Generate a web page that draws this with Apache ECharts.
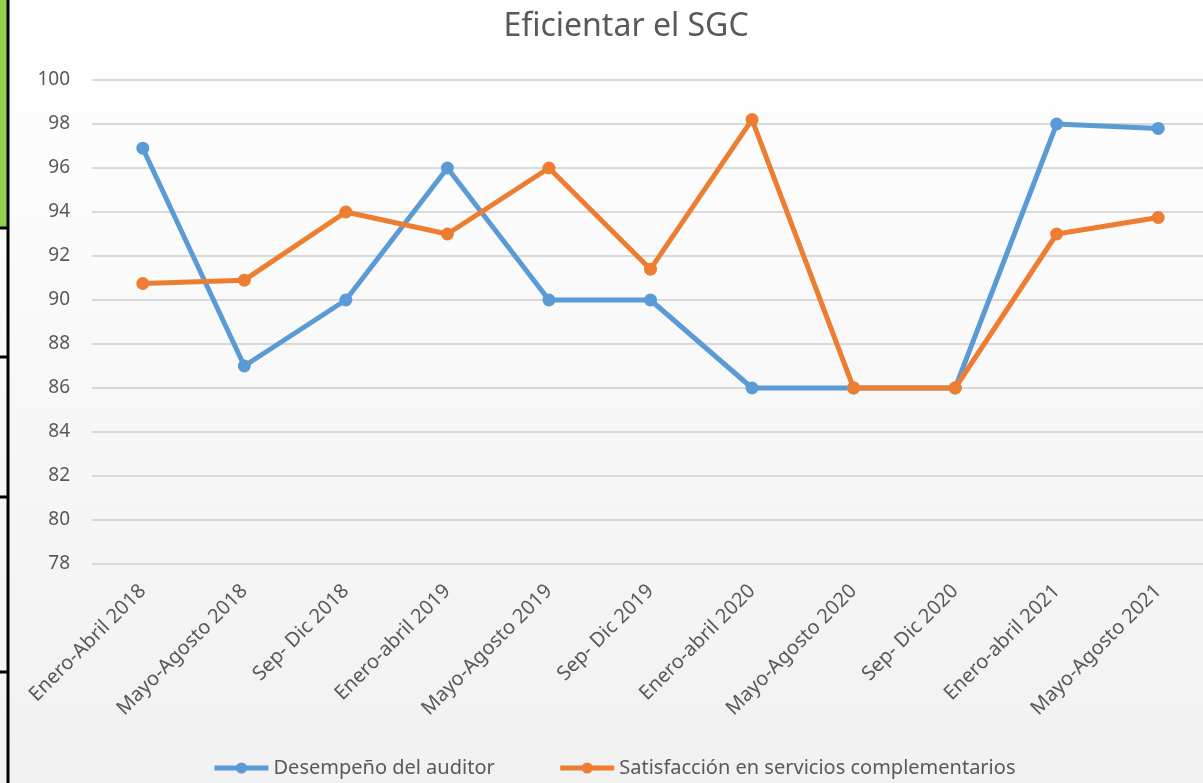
<!DOCTYPE html>
<html>
<head>
<meta charset="UTF-8" />
<script type="text/javascript" src="https://cdn.jsdelivr.net/npm/echarts@6/dist/echarts.min.js"></script>
<title>Eficientar el SGC</title>
<style>
	html, body { margin: 0; padding: 0; }
	#main { width: 1203px; height: 783px; }
</style>
</head>
<body>
	<div id="main"></div>
<script type="text/javascript">
	var periodos = ['Enero-Abril 2018', 'Mayo-Agosto 2018', 'Sep- Dic 2018', 'Enero-abril 2019',
		'Mayo-Agosto 2019', 'Sep- Dic 2019', 'Enero-abril 2020', 'Mayo-Agosto 2020',
		'Sep- Dic 2020', 'Enero-abril 2021', 'Mayo-Agosto 2021']
	var desempeno = [96.9, 87, 90, 96, 90, 90, 86, 86, 86, 98, 97.8]
	var satisfaccion = [90.75, 90.9, 94, 93, 96, 91.4, 98.2, 86, 86, 93, 93.75]
	var yMin = 78, yMax = 100, yStep = 2

	var fuente = 'Noto Sans'
	var gris = '#595959'

	var myChart = echarts.init(document.getElementById('main'))

	var option = {
		backgroundColor : {
			type : 'linear', x : 0, y : 0, x2 : 0, y2 : 1,
			colorStops : [ { offset : 0, color : '#ffffff' }, { offset : 1, color : '#f1f1f1' } ]
		},
		title : {
			text : 'Eficientar el SGC',
			left : 621,
			textAlign : 'center',
			top : 6,
			textStyle : { fontFamily : fuente, fontSize : 32, fontWeight : 'normal', color : gris }
		},
		legend : {
			bottom : 0,
			left : 207,
			itemWidth : 54,
			itemHeight : 14,
			itemGap : 63,
			lineStyle : { width : 5 },
			textStyle : { fontFamily : fuente, fontSize : 20, color : gris },
			data : ['Desempeño del auditor', 'Satisfacción en servicios complementarios']
		},
		// la rejilla sale un poco por la derecha del lienzo, como en el original
		grid : { left : 92, top : 80, width : 1117, bottom : 219, outerBoundsMode : 'none' },
		xAxis : {
			type : 'category',
			boundaryGap : true,
			data : periodos,
			axisLine : { show : false },
			axisTick : { show : false },
			axisLabel : { rotate : 45, margin : 24, interval : 0, fontFamily : fuente, fontSize : 20, color : gris }
		},
		yAxis : {
			type : 'value',
			min : yMin,
			max : yMax,
			interval : yStep,
			axisLine : { show : false },
			axisTick : { show : false },
			axisLabel : { margin : 22, fontFamily : fuente, fontSize : 19, color : gris },
			splitLine : { lineStyle : { color : '#d9d9d9', width : 2 } }
		},
		series : [ {
			name : 'Desempeño del auditor',
			type : 'line',
			data : desempeno,
			symbol : 'circle',
			symbolSize : 13,
			itemStyle : { color : '#5b9bd5' },
			lineStyle : { color : '#5b9bd5', width : 5 },
			z : 2
		}, {
			name : 'Satisfacción en servicios complementarios',
			type : 'line',
			data : satisfaccion,
			symbol : 'circle',
			symbolSize : 13,
			itemStyle : { color : '#ed7d31' },
			lineStyle : { color : '#ed7d31', width : 5 },
			z : 3
		} ],
		graphic : [
			{ type : 'rect', shape : { x : 0, y : 0, width : 7, height : 227 }, style : { fill : '#92d050' }, silent : true },
			{ type : 'line', shape : { x1 : 8, y1 : 0, x2 : 8, y2 : 783 }, style : { stroke : '#000', lineWidth : 3 }, silent : true },
			{ type : 'line', shape : { x1 : 0, y1 : 228, x2 : 8, y2 : 228 }, style : { stroke : '#000', lineWidth : 3 }, silent : true },
			{ type : 'line', shape : { x1 : 0, y1 : 357, x2 : 8, y2 : 357 }, style : { stroke : '#000', lineWidth : 3 }, silent : true },
			{ type : 'line', shape : { x1 : 0, y1 : 497, x2 : 8, y2 : 497 }, style : { stroke : '#000', lineWidth : 3 }, silent : true },
			{ type : 'line', shape : { x1 : 0, y1 : 672, x2 : 8, y2 : 672 }, style : { stroke : '#000', lineWidth : 3 }, silent : true }
		]
	}

	myChart.setOption(option)
</script>
</body>
</html>
